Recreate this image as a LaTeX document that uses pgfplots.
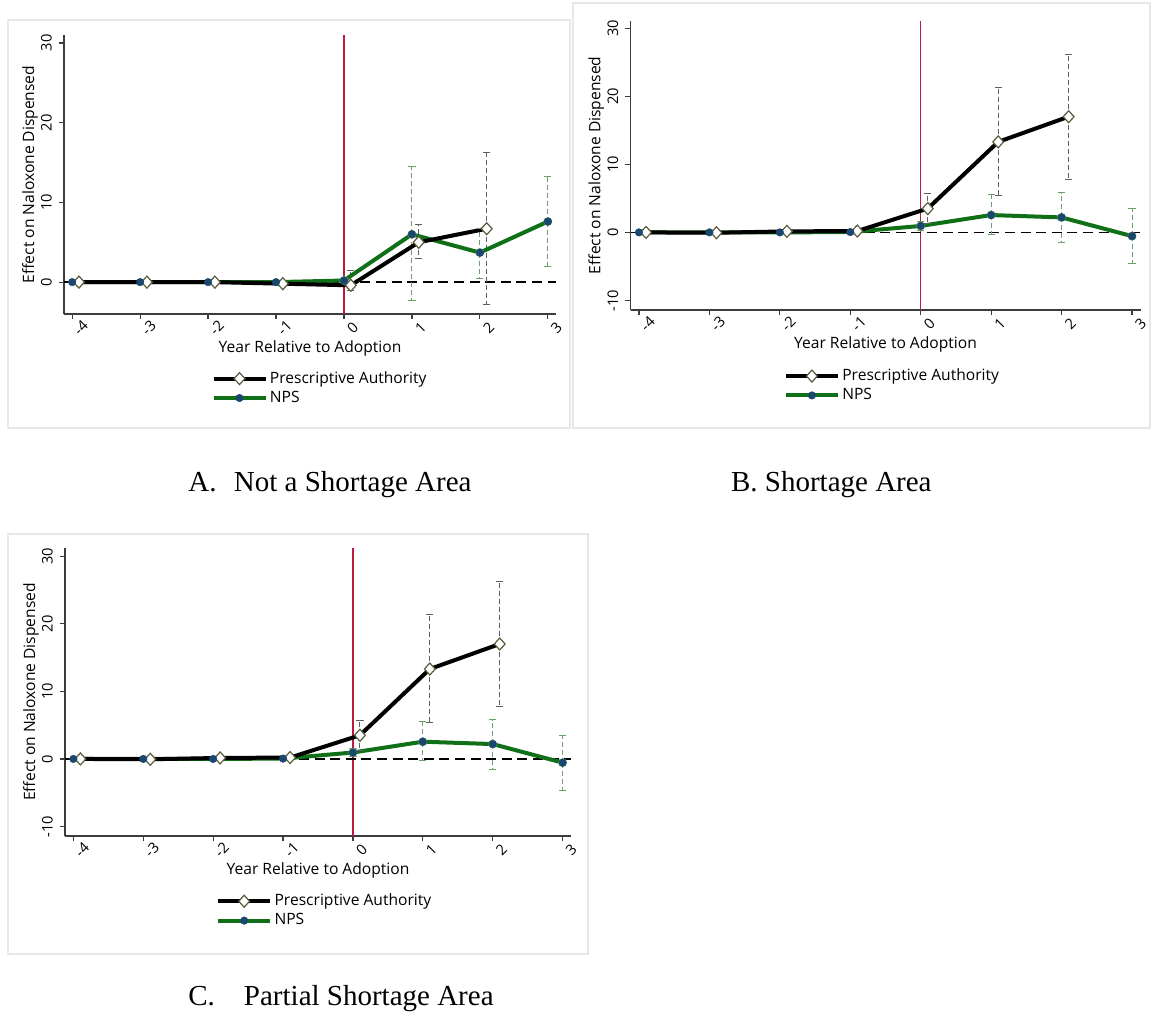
\documentclass[border=0pt]{standalone}
\usepackage{fontspec}
\setmainfont{Liberation Serif}
\newfontfamily\statafont{Open Sans}
\usepackage{pgfplots}
\usepackage{pgfplotstable}
\pgfplotsset{compat=1.18}

\definecolor{npsgreen}{RGB}{16,112,24}
\definecolor{npsnavy}{RGB}{26,71,111}
\definecolor{paolive}{RGB}{90,92,60}
\definecolor{cigray}{RGB}{95,95,95}
\definecolor{cigreen}{RGB}{110,160,110}
\definecolor{refred}{RGB}{192,24,64}
\definecolor{axgray}{RGB}{60,60,60}
\definecolor{framegray}{RGB}{228,232,232}

% x = year relative to adoption (PA offset by 0.1), lo/hi = CI bounds
\pgfplotstableread{
x     y     lo    hi
-3.9  0     0     0
-2.9  0     0     0
-1.9  0     0     0
-0.9  -0.2  -0.2  -0.2
0.1   -0.4  -1.0  1.5
1.1   5.0   3.0   7.2
2.1   6.7   -2.8  16.3
}\paA
\pgfplotstableread{
x   y     lo    hi
-4  0     0     0
-3  0     0     0
-2  0     0     0
-1  0     0     0
0   0.2   0.0   0.5
1   6.0   -2.3  14.5
2   3.7   0.5   6.7
3   7.6   1.9   13.2
}\npsA
\pgfplotstableread{
x     y     lo    hi
-3.9  0     0     0
-2.9  -0.05 0     0
-1.9  0.15  0     0
-0.9  0.2   0     0
0.1   3.5   1.3   5.7
1.1   13.3  5.4   21.3
2.1   17.0  7.8   26.2
}\paB
\pgfplotstableread{
x   y     lo    hi
-4  0     0     0
-3  0     0     0
-2  0     0     0
-1  0.05  0     0
0   0.95  0.3   1.6
1   2.55  -0.25 5.6
2   2.2   -1.5  5.8
3   -0.55 -4.6  3.5
}\npsB

\pgfplotsset{
  stata/.style={
    scale only axis, anchor=south west,
    xmin=-4.12, xmax=3.12,
    axis x line*=bottom, axis y line*=left,
    axis line style={axgray, line width=0.6pt},
    every tick/.style={axgray, line width=0.6pt},
    tick align=outside, major tick length=2.6pt,
    xtick={-4,-3,...,3}, ytick={-10,0,10,20,30},
    /pgf/number format/assume math mode=true,
    font=\statafont\fontsize{7.8}{9.2}\selectfont,
    tick label style={font=\statafont\fontsize{7.3}{8.6}\selectfont},
    xticklabel style={rotate=45, anchor=center, yshift=-6.1pt, inner sep=0.4pt},
    yticklabel style={rotate=90, anchor=south},
    xlabel={Year Relative to Adoption},
    ylabel={Effect on Naloxone Dispensed},
    xlabel style={at={(axis description cs:0.5,0)}, anchor=center, yshift=-17.3pt, inner sep=0.5pt},
    legend style={draw=none, fill=none, anchor=north west, legend cell align=left,
      row sep=0pt, inner sep=0pt, nodes={inner sep=1.2pt}},
    legend image code/.code={\draw[mark repeat=2, mark phase=2, #1]
      plot coordinates {(0pt,0pt) (13pt,0pt) (26pt,0pt)};},
  },
  paline/.style={black, line width=2pt, mark=diamond*, mark size=3pt,
    mark options={solid, fill=white, draw=paolive, line width=0.6pt, xscale=1.2}},
  npsline/.style={npsgreen, line width=2pt},
  npsmark/.style={mark=*, mark size=1.9pt, mark options={solid, fill=npsnavy, draw=npsnavy, line width=0.2pt}},
  cibar/.style={forget plot, only marks, mark=none, #1,
    error bars/.cd, y dir=both, y explicit, error mark=none,
    error bar style={#1, line width=0.5pt, dash pattern=on 2.5pt off 1.5pt}},
  cicap/.style={forget plot, only marks, mark=-, mark size=1.8pt,
    mark options={#1, solid, line width=0.5pt}},
}

% CI: dashed bar from lo to hi with solid caps at both ends
\newcommand\ci[2]{%
  \addplot[cibar=#2] table[x=x, y=y, y error plus expr=\thisrow{hi}-\thisrow{y},
    y error minus expr=\thisrow{y}-\thisrow{lo}, restrict x to domain=-0.5:3.5] {#1};
  \addplot[cicap=#2] table[x=x, y=hi, restrict x to domain=-0.5:3.5] {#1};
  \addplot[cicap=#2] table[x=x, y=lo, restrict x to domain=-0.5:3.5] {#1};
}

\begin{document}
\begin{tikzpicture}
\path[use as bounding box, fill=white] (0,0) rectangle (576pt,-511pt);
\draw[framegray, line width=0.8pt] (4pt,-10pt) rectangle (285pt,-214pt);
\draw[framegray, line width=0.8pt] (286.5pt,-1.5pt) rectangle (575pt,-214pt);
\draw[framegray, line width=0.8pt] (4pt,-267pt) rectangle (294pt,-477pt);

% ---- panel A
\begin{axis}[stata, at={(32pt,-157pt)}, width=246pt, height=139.5pt,
  ymin=-4, ymax=31,
  ylabel style={at={(axis description cs:-0.069,0.5)}, anchor=center},
  legend style={at={(axis description cs:0.299,-0.195)}}]
\addlegendimage{paline}\addlegendentry{Prescriptive Authority}
\addlegendimage{npsline, npsmark}\addlegendentry{NPS}
\addplot[refred, line width=0.6pt, forget plot] coordinates {(0,-4) (0,31)};
\addplot[black, line width=0.7pt, dash pattern=on 5pt off 2.8pt, forget plot] coordinates {(-4.12,0) (3.12,0)};
\ci{\paA}{cigray}
\ci{\npsA}{cigreen}
\addplot[npsline, forget plot] table[x=x, y=y] {\npsA};
\addplot[paline, forget plot] table[x=x, y=y] {\paA};
\addplot[only marks, npsmark, forget plot] table[x=x, y=y] {\npsA};
\end{axis}

% ---- panel B
\begin{axis}[stata, at={(315.25pt,-155pt)}, width=255pt, height=144.65pt,
  ymin=-11.4, ymax=31.1,
  ylabel style={at={(axis description cs:-0.067,0.5)}, anchor=center},
  legend style={at={(axis description cs:0.30,-0.193)}}]
\addlegendimage{paline}\addlegendentry{Prescriptive Authority}
\addlegendimage{npsline, npsmark}\addlegendentry{NPS}
\addplot[refred, line width=0.6pt, forget plot] coordinates {(0,-11.4) (0,31.1)};
\addplot[black, line width=0.7pt, dash pattern=on 5pt off 2.8pt, forget plot] coordinates {(-4.12,0) (3.12,0)};
\ci{\paB}{cigray}
\ci{\npsB}{cigreen}
\addplot[npsline, forget plot] table[x=x, y=y] {\npsB};
\addplot[paline, forget plot] table[x=x, y=y] {\paB};
\addplot[only marks, npsmark, forget plot] table[x=x, y=y] {\npsB};
\end{axis}

% ---- panel C
\begin{axis}[stata, at={(32.5pt,-418pt)}, width=253pt, height=144pt,
  ymin=-11.4, ymax=31.2,
  ylabel style={at={(axis description cs:-0.067,0.5)}, anchor=center},
  legend style={at={(axis description cs:0.298,-0.191)}}]
\addlegendimage{paline}\addlegendentry{Prescriptive Authority}
\addlegendimage{npsline, npsmark}\addlegendentry{NPS}
\addplot[refred, line width=0.6pt, forget plot] coordinates {(0,-11.4) (0,31.2)};
\addplot[black, line width=0.7pt, dash pattern=on 5pt off 2.8pt, forget plot] coordinates {(-4.12,0) (3.12,0)};
\ci{\paB}{cigray}
\ci{\npsB}{cigreen}
\addplot[npsline, forget plot] table[x=x, y=y] {\npsB};
\addplot[paline, forget plot] table[x=x, y=y] {\paB};
\addplot[only marks, npsmark, forget plot] table[x=x, y=y] {\npsB};
\end{axis}

\node[font=\fontsize{14.5}{17}\selectfont, anchor=base west, inner sep=0pt] at (94pt,-245.8pt) {A.\hspace{0.6em}Not a Shortage Area};
\node[font=\fontsize{14.5}{17}\selectfont, anchor=base east, inner sep=0pt] at (466pt,-245.8pt) {B. Shortage Area};
\node[font=\fontsize{14.5}{17}\selectfont, anchor=base west, inner sep=0pt] at (94pt,-502.5pt) {C.\hspace{1em}Partial Shortage Area};
\end{tikzpicture}
\end{document}
